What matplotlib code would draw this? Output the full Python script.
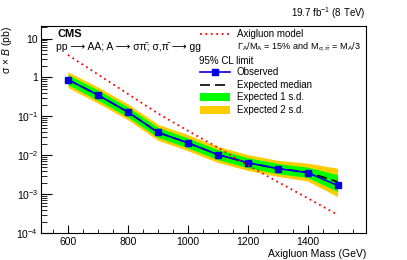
import matplotlib.pyplot as plt
from matplotlib.lines import Line2D
from matplotlib.patches import Rectangle
from matplotlib.ticker import MultipleLocator, LogLocator, FixedFormatter, FixedLocator

plt.rcParams['font.family'] = ['Liberation Sans', 'DejaVu Sans']
plt.rcParams['mathtext.fontset'] = 'custom'
plt.rcParams['mathtext.rm'] = 'Liberation Sans'
plt.rcParams['mathtext.it'] = 'Liberation Sans:italic'

mass = [600, 700, 800, 900, 1000, 1100, 1200, 1300, 1400, 1500]
observed = [0.88, 0.355, 0.13, 0.039, 0.021, 0.0105, 0.0065, 0.0046, 0.0036, 0.0017]
expected = [0.88, 0.355, 0.13, 0.039, 0.021, 0.0105, 0.0065, 0.0046, 0.0037, 0.0021]
exp1_lo = [0.65, 0.26, 0.096, 0.029, 0.0155, 0.0078, 0.0048, 0.0034, 0.0027, 0.00118]
exp1_hi = [1.19, 0.48, 0.175, 0.053, 0.028, 0.0142, 0.0088, 0.0062, 0.0050, 0.0032]
exp2_lo = [0.55, 0.22, 0.082, 0.0245, 0.0132, 0.0066, 0.0041, 0.0029, 0.0022, 0.00087]
exp2_hi = [1.4, 0.57, 0.21, 0.063, 0.034, 0.017, 0.0105, 0.0075, 0.0063, 0.0047]
model = [3.8, 1.2, 0.38, 0.12, 0.043, 0.016, 0.0056, 0.0021, 0.0008, 0.0003]

green = '#00ff00'
yellow = '#ffcc00'
blue = '#0000e0'
dots = (0, (1, 2))

fig = plt.figure(figsize=(4.07, 2.6), dpi=100)
ax = fig.add_axes([0.1007, 0.1027, 0.7986, 0.7973])

ax.fill_between(mass, exp2_lo, exp2_hi, color=yellow, lw=0)
ax.fill_between(mass, exp1_lo, exp1_hi, color=green, lw=0)
ax.plot(mass, expected, color='black', ls=(0, (6, 3)), lw=1.2)
ax.plot(mass, observed, color=blue, lw=1.2, marker='s', ms=4.5)
ax.plot(mass, model, color='red', ls=dots, lw=1.3)

ax.set_yscale('log')
ax.set_xlim(510, 1595)
ax.set_ylim(1e-4, 21)

ax.xaxis.set_major_locator(MultipleLocator(200))
ax.xaxis.set_minor_locator(MultipleLocator(50))
ax.yaxis.set_major_locator(FixedLocator([1e-4, 1e-3, 1e-2, 1e-1, 1, 10]))
ax.yaxis.set_major_formatter(FixedFormatter(['$10^{-4}$', '$10^{-3}$', '$10^{-2}$',
                                             '$10^{-1}$', '1', '10']))
ax.yaxis.set_minor_locator(LogLocator(base=10, subs=range(2, 10), numticks=20))
ax.yaxis.set_minor_formatter(FixedFormatter([]))
ax.tick_params(which='both', direction='in', top=False, right=False, labelsize=7.5)
ax.tick_params(axis='y', which='major', length=8, pad=2)
ax.tick_params(axis='y', which='minor', length=4)
ax.tick_params(axis='x', which='major', length=6, pad=3)
ax.tick_params(axis='x', which='minor', length=3)

ax.set_xlabel('Axigluon Mass (GeV)', fontsize=7.5, loc='right', labelpad=1)
ax.set_ylabel(r'σ × $\mathit{B}$ (pb)', fontsize=7.5, loc='top', labelpad=2)

fig.text(0.899, 0.95, r'19.7 fb$^{-1}$ (8 TeV)', ha='right', va='center', fontsize=7)
ax.text(0.05, 0.961, 'CMS', transform=ax.transAxes, fontsize=8, fontweight='bold',
        va='center', ha='left')
ax.text(0.045, 0.899, 'pp ⟶ AA; A ⟶ σ\u03c0\u0304; σ,\u03c0\u0304 ⟶ gg',
        transform=ax.transAxes, fontsize=7.5, va='center', ha='left')

# legend, drawn by hand
hx0, hx1, tx = 0.489, 0.582, 0.602
rows = [0.961, 0.899, 0.831, 0.778, 0.716, 0.657, 0.595]
tr = ax.transAxes
ax.add_line(Line2D([hx0, hx1], [rows[0]] * 2, transform=tr, color='red', ls=dots, lw=1.3))
ax.text(tx, rows[0], 'Axigluon model', transform=tr, fontsize=7, va='center')
ax.text(tx, rows[1], r'Γ$_{\rm A}$/M$_{\rm A}$ = 15% and M$_{\sigma,\bar{\pi}}$ = M$_{\rm A}$/3',
        transform=tr, fontsize=6.6, va='center')
ax.text(0.485, rows[2], '95% CL limit', transform=tr, fontsize=7, va='center')
ax.add_line(Line2D([hx0, hx1], [rows[3]] * 2, transform=tr, color=blue, lw=1.2))
ax.add_line(Line2D([(hx0 + hx1) / 2], [rows[3]], transform=tr, color=blue, marker='s', ms=4.5))
ax.text(tx, rows[3], 'Observed', transform=tr, fontsize=7, va='center')
ax.add_line(Line2D([hx0, hx1], [rows[4]] * 2, transform=tr, color='black', ls=(0, (6, 3)), lw=1.2))
ax.text(tx, rows[4], 'Expected median', transform=tr, fontsize=7, va='center')
bh = 0.04
ax.add_patch(Rectangle((hx0, rows[5] - bh / 2), hx1 - hx0, bh, transform=tr, color=green, lw=0))
ax.text(tx, rows[5], 'Expected 1 s.d.', transform=tr, fontsize=7, va='center')
ax.add_patch(Rectangle((hx0, rows[6] - bh / 2), hx1 - hx0, bh, transform=tr, color=yellow, lw=0))
ax.text(tx, rows[6], 'Expected 2 s.d.', transform=tr, fontsize=7, va='center')

fig.savefig('out.png', dpi=100)
